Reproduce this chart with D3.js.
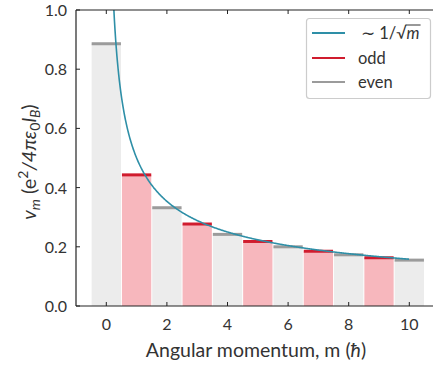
<!DOCTYPE html>
<html><head><meta charset="utf-8">
<script src="https://cdn.jsdelivr.net/npm/d3@7"></script>
<style>
body{margin:0;background:#fff;}
svg{display:block;font-family:Lato,"Open Sans",sans-serif;}
text{font-weight:400;}
</style></head>
<body>
<svg id="c" width="433" height="368"></svg>
<script>
// Data
const mValues = [0,1,2,3,4,5,6,7,8,9,10];
const pseudoPotential = [0.886,0.443,0.332,0.277,0.242,0.218,0.200,0.185,0.173,0.163,0.155];
const xTicks = [0,2,4,6,8,10];
const yTicks = [0.0,0.2,0.4,0.6,0.8,1.0];
const fitCoef = 0.5;       // ~ 1/sqrt(m) prefactor
const fitRange = [0.25, 10];
const legendLabels = ["odd","even"];

const svg = d3.select("#c");
const x = d3.scaleLinear().domain([-1, 11]).range([76, 439.6]);
const y = d3.scaleLinear().domain([0, 1]).range([306, 10]);

const colors = {
  oddFill:"#f7b7bd", oddLine:"#d01c2e",
  evenFill:"#ececec", evenLine:"#9b9b9b",
  fit:"#2e8fa7", text:"#333333"
};

const data = mValues.map((m,i)=>({m, v:pseudoPotential[i]}));

// bars
svg.append("g").selectAll("rect").data(data).join("rect")
  .attr("x", d=>x(d.m-0.5)+0.5)
  .attr("width", d=>x(d.m+0.5)-x(d.m-0.5)-1)
  .attr("y", d=>y(d.v))
  .attr("height", d=>y(0)-y(d.v))
  .attr("fill", d=>d.m%2 ? colors.oddFill : colors.evenFill);

// level lines
svg.append("g").selectAll("line").data(data).join("line")
  .attr("x1", d=>x(d.m-0.5)+0.5)
  .attr("x2", d=>x(d.m+0.5)-0.5)
  .attr("y1", d=>y(d.v)).attr("y2", d=>y(d.v))
  .attr("stroke", d=>d.m%2 ? colors.oddLine : colors.evenLine)
  .attr("stroke-width", 3);

// fit curve
const fitPts = d3.range(fitRange[0], fitRange[1]+1e-9, 0.02).map(m=>[m, fitCoef/Math.sqrt(m)]);
svg.append("defs").append("clipPath").attr("id","clip").append("rect")
  .attr("x",76).attr("y",10).attr("width",364).attr("height",296);
svg.append("path").datum(fitPts)
  .attr("clip-path","url(#clip)")
  .attr("fill","none").attr("stroke",colors.fit).attr("stroke-width",1.6)
  .attr("d", d3.line().x(d=>x(d[0])).y(d=>y(d[1])));

// axes
const ax = svg.append("g").attr("font-size",16);
const spine = "#222";
ax.append("line").attr("x1",76).attr("x2",433).attr("y1",306).attr("y2",306).attr("stroke",spine).attr("stroke-width",1.2);
ax.append("line").attr("x1",76).attr("x2",433).attr("y1",10).attr("y2",10).attr("stroke",spine).attr("stroke-width",1.2);
ax.append("line").attr("x1",76).attr("x2",76).attr("y1",10).attr("y2",306).attr("stroke",spine).attr("stroke-width",1.2);

xTicks.forEach(t=>{
  ax.append("line").attr("x1",x(t)).attr("x2",x(t)).attr("y1",306).attr("y2",302).attr("stroke",spine);
  ax.append("line").attr("x1",x(t)).attr("x2",x(t)).attr("y1",10).attr("y2",14).attr("stroke",spine);
  ax.append("text").attr("x",x(t)).attr("y",330).attr("text-anchor","middle").attr("fill",colors.text).text(t);
});
yTicks.forEach(t=>{
  ax.append("line").attr("x1",76).attr("x2",80).attr("y1",y(t)).attr("y2",y(t)).attr("stroke",spine);
  ax.append("text").attr("x",67).attr("y",y(t)+6).attr("text-anchor","end").attr("fill",colors.text).text(t.toFixed(1));
});

// x label
const xl = svg.append("text").attr("x",256).attr("y",357).attr("text-anchor","middle")
  .attr("font-size",19.5).attr("fill",colors.text);
xl.append("tspan").text("Angular momentum, m (");
xl.append("tspan").attr("font-style","italic").text("ħ");
xl.append("tspan").text(")");

// y label
const yl = svg.append("text").attr("transform","translate(36,162) rotate(-90)")
  .attr("text-anchor","middle").attr("font-size",20).attr("fill",colors.text);
yl.append("tspan").attr("font-style","italic").text("v");
yl.append("tspan").attr("font-style","italic").attr("font-size",14).attr("dy",4).text("m");
yl.append("tspan").attr("dy",-4).text(" (e");
yl.append("tspan").attr("font-size",14).attr("dy",-8).text("2");
yl.append("tspan").attr("dy",8).attr("font-style","italic").text("/4πε");
yl.append("tspan").attr("font-size",14).attr("dy",4).text("0");
yl.append("tspan").attr("dy",-4).attr("font-style","italic").text("l");
yl.append("tspan").attr("font-size",14).attr("dy",4).attr("font-style","italic").text("B");
yl.append("tspan").attr("dy",-4).text(")");

// legend
const lg = svg.append("g");
lg.append("rect").attr("x",306.5).attr("y",18.5).attr("width",124).attr("height",80).attr("rx",3)
  .attr("fill","#fff").attr("stroke","#cccccc").attr("stroke-width",1.2);
const rows = [{c:colors.fit,y:33},{c:colors.oddLine,y:58,l:legendLabels[0]},{c:colors.evenLine,y:82,l:legendLabels[1]}];
rows.forEach(r=>{
  lg.append("line").attr("x1",312).attr("x2",345).attr("y1",r.y).attr("y2",r.y).attr("stroke",r.c).attr("stroke-width",2);
  if(r.l) lg.append("text").attr("x",358).attr("y",r.y+6).attr("font-size",16.5).attr("fill",colors.text).text(r.l);
});
const ft = lg.append("text").attr("x",361).attr("y",39).attr("font-size",16.5).attr("fill",colors.text);
ft.append("tspan").text("∼ 1/√");
const mt = ft.append("tspan").attr("font-style","italic").text("m");
const fullW = ft.node().getComputedTextLength();
const mW = mt.node().getComputedTextLength();
lg.append("line").attr("x1",361+fullW-mW-1).attr("x2",361+fullW+1).attr("y1",25).attr("y2",25)
  .attr("stroke",colors.text).attr("stroke-width",1);
</script>
</body></html>
